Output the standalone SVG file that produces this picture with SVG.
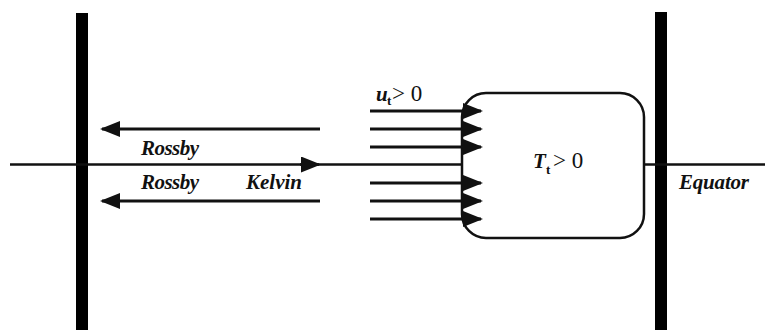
<svg xmlns="http://www.w3.org/2000/svg" width="765" height="330" viewBox="0 0 765 330">
<style>
.bar{fill:#000}
.ln{stroke:#111;stroke-width:3;fill:none}
.eq{stroke:#111;stroke-width:2.5;fill:none}
text{font-family:'Liberation Serif','DejaVu Serif',serif;fill:#111}
.lab{font-style:italic;font-weight:bold;font-size:21px}
.rm{font-size:23px}
.sub{font-weight:bold;font-size:13px}
</style>
<defs>
<marker id="ah" viewBox="0 0 20 16" refX="18" refY="8" markerWidth="20" markerHeight="16" markerUnits="userSpaceOnUse" orient="auto">
<path d="M0,0 L20,8 L0,16 Z" fill="#111"/>
</marker>
</defs>
<g id="walls">
<rect class="bar" x="76" y="13" width="12" height="317"/>
<rect class="bar" x="655" y="12" width="12" height="318"/>
</g>
<g id="equator">
<line class="eq" x1="10" y1="164.5" x2="463" y2="164.5"/>
<line class="eq" x1="644" y1="164.5" x2="765" y2="164.5"/>
<text class="lab" x="679" y="189" textLength="70">Equator</text>
</g>
<g id="box">
<rect x="462" y="93" width="182" height="145" rx="24" ry="24" fill="none" stroke="#111" stroke-width="2.5"/>
<text class="lab" x="533" y="168">T</text>
<text class="sub" x="546" y="174">t</text>
<text class="rm" x="553" y="168">&gt; 0</text>
</g>
<g id="connectors">
<line class="ln" x1="320" y1="129" x2="102" y2="129" marker-end="url(#ah)"/>
<line class="ln" x1="320" y1="201" x2="102" y2="201" marker-end="url(#ah)"/>
<line class="eq" x1="300" y1="164.5" x2="319" y2="164.5" marker-end="url(#ah)"/>
<line class="ln" x1="370" y1="111" x2="481" y2="111" marker-end="url(#ah)"/>
<line class="ln" x1="370" y1="129" x2="481" y2="129" marker-end="url(#ah)"/>
<line class="ln" x1="370" y1="147" x2="481" y2="147" marker-end="url(#ah)"/>
<line class="ln" x1="370" y1="183" x2="481" y2="183" marker-end="url(#ah)"/>
<line class="ln" x1="370" y1="201" x2="481" y2="201" marker-end="url(#ah)"/>
<line class="ln" x1="370" y1="219" x2="481" y2="219" marker-end="url(#ah)"/>
</g>
<g id="labels">
<text class="lab" x="141" y="155" textLength="58">Rossby</text>
<text class="lab" x="141" y="189" textLength="58">Rossby</text>
<text class="lab" x="246" y="189" textLength="56">Kelvin</text>
<text class="lab" x="376" y="101">u</text>
<text class="sub" x="387" y="105">t</text>
<text class="rm" x="392" y="101">&gt; 0</text>
</g>
</svg>
